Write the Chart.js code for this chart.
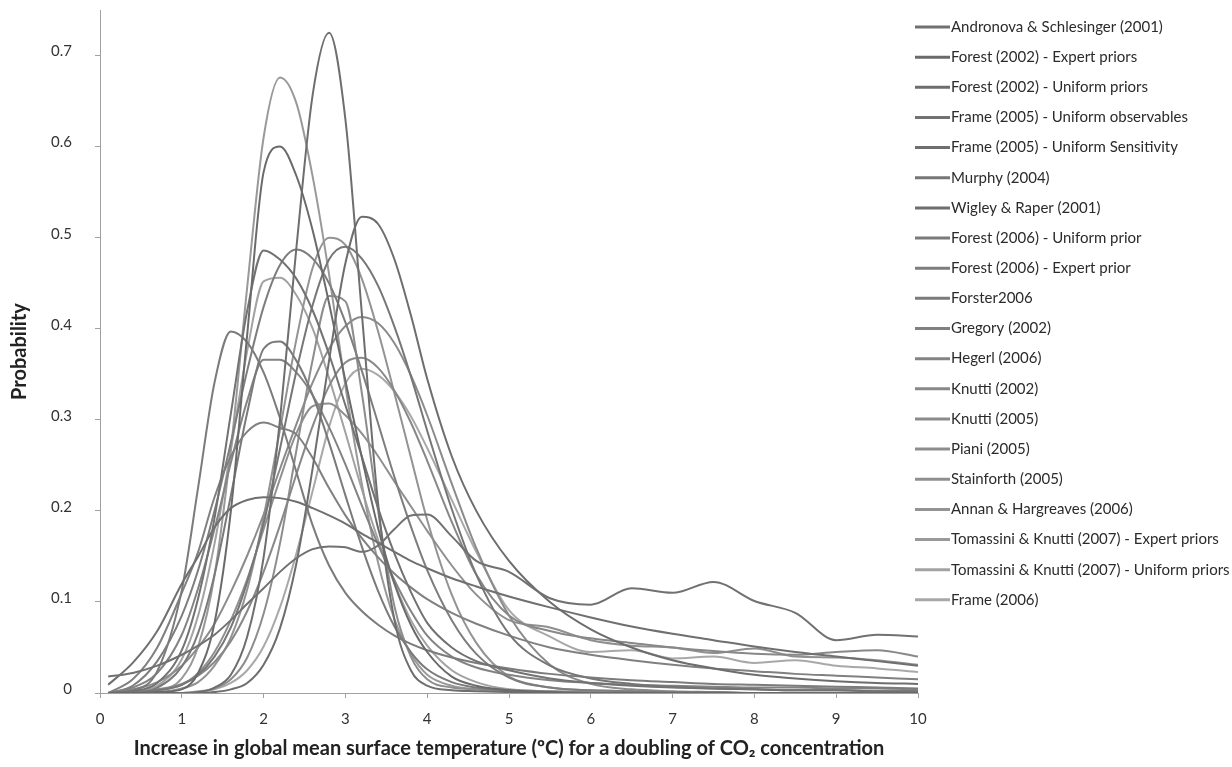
<!DOCTYPE html>
<html>
<head>
<meta charset="utf-8">
<title>Climate sensitivity PDFs</title>
<script src="https://cdn.jsdelivr.net/npm/chart.js@4.4.0/dist/chart.umd.min.js"></script>
<style>
    html, body { margin: 0; padding: 0; background: #fff; }
</style>
</head>
<body>
<canvas id="sensitivityChart" width="1232" height="767"></canvas>
<script>
// Temperature grid (x values, degC) shared by every curve
const temps = [0.1, 0.4, 0.7, 1.0, 1.2, 1.4, 1.6, 1.8, 2.0, 2.2, 2.4, 2.6, 2.8, 3.0, 3.2, 3.4, 3.6, 3.8, 4.0, 4.3, 4.6, 5.0, 5.5, 6.0, 6.5, 7.0, 7.5, 8.0, 8.5, 9.0, 9.5, 10];

// Probability at the temps above
const andronova2001 = [.018, .022, .03, .042, .052, .064, .08, .098, .115, .133, .148, .158, .161, .16, .155, .162, .18, .195, .196, .172, .145, .133, .104, .097, .115, .11, .122, .101, .088, .058, .064, .062];
const forest2002Expert = [0, 0, .001, .004, .022, .077, .2, .394, .572, .6, .568, .508, .428, .343, .259, .181, .12, .075, .045, .018, .008, .003, .001, 0, 0, 0, 0, 0, 0, 0, 0, 0];
const forest2002Uniform = [0, 0, 0, 0, 0, .001, .004, .011, .031, .071, .142, .247, .365, .472, .523, .515, .476, .415, .345, .26, .2, .145, .1, .07, .05, .036, .027, .02, .016, .013, .011, .01];
const frame2005Obs = [0, .002, .011, .047, .104, .192, .307, .42, .486, .476, .455, .42, .372, .316, .26, .203, .153, .111, .077, .05, .035, .025, .016, .011, .008, .006, .005, .004, .003, .003, .002, .002];
const frame2005Sens = [.009, .033, .068, .12, .15, .182, .203, .212, .215, .214, .21, .203, .195, .186, .175, .165, .155, .145, .137, .126, .117, .106, .094, .083, .073, .065, .058, .051, .045, .04, .035, .03];
const murphy2004 = [0, .001, .003, .009, .02, .04, .072, .122, .186, .268, .353, .426, .476, .49, .477, .447, .402, .348, .288, .202, .13, .065, .03, .016, .01, .007, .005, .004, .003, .003, .002, .002];
const wigley2001 = [0, 0, 0, 0, .001, .006, .02, .062, .149, .3, .488, .657, .725, .63, .418, .208, .08, .025, .008, .003, .002, .001, 0, 0, 0, 0, 0, 0, 0, 0, 0, 0];
const forest2006Uniform = [0, 0, .006, .029, .066, .13, .217, .308, .378, .386, .365, .327, .275, .217, .161, .112, .073, .045, .026, .012, .006, .003, .001, 0, 0, 0, 0, 0, 0, 0, 0, 0];
const forest2006Expert = [0, .008, .035, .085, .135, .2, .275, .354, .424, .47, .487, .477, .45, .407, .354, .296, .237, .183, .135, .08, .043, .017, .006, .003, .002, .001, .001, 0, 0, 0, 0, 0];
const forster2006 = [0, .003, .024, .113, .226, .341, .397, .385, .352, .302, .243, .184, .14, .11, .09, .075, .063, .054, .047, .039, .033, .027, .021, .017, .014, .012, .01, .009, .008, .007, .006, .005];
const gregory2002 = [0, .015, .05, .11, .155, .215, .26, .287, .297, .291, .284, .258, .225, .195, .17, .149, .131, .116, .103, .088, .076, .063, .05, .042, .036, .031, .027, .024, .021, .019, .017, .015];
const hegerl2006 = [0, .006, .022, .064, .115, .18, .253, .321, .366, .366, .352, .327, .292, .251, .206, .163, .124, .09, .063, .04, .028, .02, .014, .011, .009, .008, .007, .006, .006, .005, .005, .004];
const knutti2002 = [0, 0, .004, .01, .019, .034, .057, .09, .133, .184, .24, .293, .337, .363, .368, .357, .332, .297, .255, .188, .13, .085, .068, .06, .055, .05, .046, .043, .042, .045, .047, .04];
const knutti2005 = [0, .004, .012, .03, .05, .076, .111, .151, .196, .246, .295, .341, .378, .403, .413, .406, .384, .349, .305, .23, .159, .085, .031, .01, .004, .002, .001, 0, 0, 0, 0, 0];
const piani2005 = [0, 0, 0, 0, .001, .005, .015, .039, .087, .164, .266, .366, .436, .43, .33, .2, .095, .04, .015, .006, .004, .003, .002, .001, 0, 0, 0, 0, 0, 0, 0, 0];
const stainforth2005 = [0, .001, .003, .009, .022, .045, .08, .125, .18, .235, .285, .315, .318, .305, .285, .26, .232, .205, .178, .14, .108, .08, .072, .058, .052, .05, .044, .049, .04, .039, .036, .031];
const annan2006 = [0, 0, .001, .005, .012, .03, .061, .114, .193, .289, .388, .467, .5, .492, .455, .397, .329, .259, .19, .108, .055, .018, .006, .003, .002, .001, 0, 0, 0, 0, 0, 0];
const tomassini2007Expert = [0, 0, .002, .016, .051, .129, .268, .446, .61, .676, .648, .567, .46, .337, .23, .143, .081, .043, .02, .008, .004, .002, .001, 0, 0, 0, 0, 0, 0, 0, 0, 0];
const tomassini2007Uniform = [0, .001, .008, .037, .085, .164, .267, .376, .452, .456, .437, .4, .346, .286, .224, .168, .12, .08, .052, .025, .012, .004, .002, .001, 0, 0, 0, 0, 0, 0, 0, 0];
const frame2006 = [0, 0, 0, 0, .002, .004, .011, .025, .051, .094, .153, .222, .292, .34, .356, .349, .331, .304, .269, .212, .155, .091, .062, .045, .047, .038, .04, .033, .036, .03, .027, .023];

const seriesLabels = [
    'Andronova & Schlesinger (2001)',
    'Forest (2002) - Expert priors',
    'Forest (2002) - Uniform priors',
    'Frame (2005) - Uniform observables',
    'Frame (2005) - Uniform Sensitivity',
    'Murphy (2004)',
    'Wigley & Raper (2001)',
    'Forest (2006) - Uniform prior',
    'Forest (2006) - Expert prior',
    'Forster2006',
    'Gregory (2002)',
    'Hegerl (2006)',
    'Knutti (2002)',
    'Knutti (2005)',
    'Piani (2005)',
    'Stainforth (2005)',
    'Annan & Hargreaves (2006)',
    'Tomassini & Knutti (2007) - Expert priors',
    'Tomassini & Knutti (2007) - Uniform priors',
    'Frame (2006)'
];
const seriesValues = [
    andronova2001, forest2002Expert, forest2002Uniform, frame2005Obs, frame2005Sens,
    murphy2004, wigley2001, forest2006Uniform, forest2006Expert, forster2006,
    gregory2002, hegerl2006, knutti2002, knutti2005, piani2005,
    stainforth2005, annan2006, tomassini2007Expert, tomassini2007Uniform, frame2006
];
const xTicks = [0, 1, 2, 3, 4, 5, 6, 7, 8, 9, 10];
const yTicks = [0, 0.1, 0.2, 0.3, 0.4, 0.5, 0.6, 0.7];

// Grey shades, darker at the top of the legend
const seriesColors = [
    '#717171', '#6a6a6a', '#6d6d6d', '#727272', '#6f6f6f',
    '#767676', '#6e6e6e', '#7a7a7a', '#7d7d7d', '#7b7b7b',
    '#808080', '#838383', '#888888', '#8b8b8b', '#8d8d8d',
    '#8f8f8f', '#939393', '#999999', '#a2a2a2', '#a8a8a8'
];

// Legend drawn down the right side, next to the plot
const sideLegend = {
    id: 'sideLegend',
    afterDraw(chart) {
        const ctx = chart.ctx;
        const left = chart.chartArea.right - 3;
        ctx.save();
        ctx.font = '15px Lato';
        ctx.textBaseline = 'middle';
        chart.data.datasets.forEach((ds, i) => {
            const y = 27 + i * 30.15;
            ctx.strokeStyle = ds.borderColor;
            ctx.lineWidth = 3;
            ctx.beginPath();
            ctx.moveTo(left, y);
            ctx.lineTo(left + 35, y);
            ctx.stroke();
            ctx.fillStyle = '#2b2b2b';
            ctx.fillText(ds.label, left + 36, y);
        });
        ctx.restore();
    }
};

Chart.defaults.font.family = 'Lato';
Chart.defaults.color = '#333';

const ctx = document.getElementById('sensitivityChart').getContext('2d');
new Chart(ctx, {
    type: 'line',
    data: {
        datasets: seriesLabels.map((label, i) => ({
            label: label,
            data: temps.map((t, j) => ({ x: t, y: seriesValues[i][j] })),
            borderColor: seriesColors[i],
            borderWidth: 2,
            pointRadius: 0,
            fill: false,
            cubicInterpolationMode: 'monotone'
        }))
    },
    options: {
        responsive: false,
        animation: false,
        devicePixelRatio: 1,
        layout: { padding: { top: 10, right: 314, bottom: 3, left: 0 } },
        plugins: {
            legend: { display: false },
            tooltip: { enabled: false }
        },
        scales: {
            x: {
                type: 'linear',
                min: 0,
                max: 10,
                afterBuildTicks: scale => { scale.ticks = xTicks.map(v => ({ value: v })); },
                afterFit: scale => { scale.height = 71; },
                ticks: { font: { size: 15 }, padding: 12, maxRotation: 0 },
                grid: { drawOnChartArea: false, tickLength: 5, color: '#a0a0a0' },
                border: { color: '#a0a0a0' },
                title: {
                    display: true,
                    text: 'Increase in global mean surface temperature (ºC) for a doubling of CO₂ concentration',
                    font: { size: 20, weight: 'bold' },
                    color: '#222',
                    padding: { top: 8, bottom: 3 }
                }
            },
            y: {
                min: 0,
                max: 0.75,
                afterBuildTicks: scale => { scale.ticks = yTicks.map(v => ({ value: v })); },
                afterFit: scale => {
                    scale.width = 100;
                    // keep the label gap from pushing the plot edges inward
                    scale.paddingTop = 0;
                    scale.paddingBottom = 0;
                },
                ticks: {
                    font: { size: 15 },
                    padding: 23,
                    labelOffset: -4,
                    callback: v => (v === 0 ? '0' : v.toFixed(1))
                },
                grid: { drawOnChartArea: false, tickLength: 5, color: '#a0a0a0' },
                border: { color: '#a0a0a0' },
                title: {
                    display: true,
                    text: 'Probability',
                    font: { size: 20, weight: 'bold' },
                    color: '#222',
                    padding: { top: 8, bottom: 0 }
                }
            }
        }
    },
    plugins: [sideLegend]
});
</script>
</body>
</html>
